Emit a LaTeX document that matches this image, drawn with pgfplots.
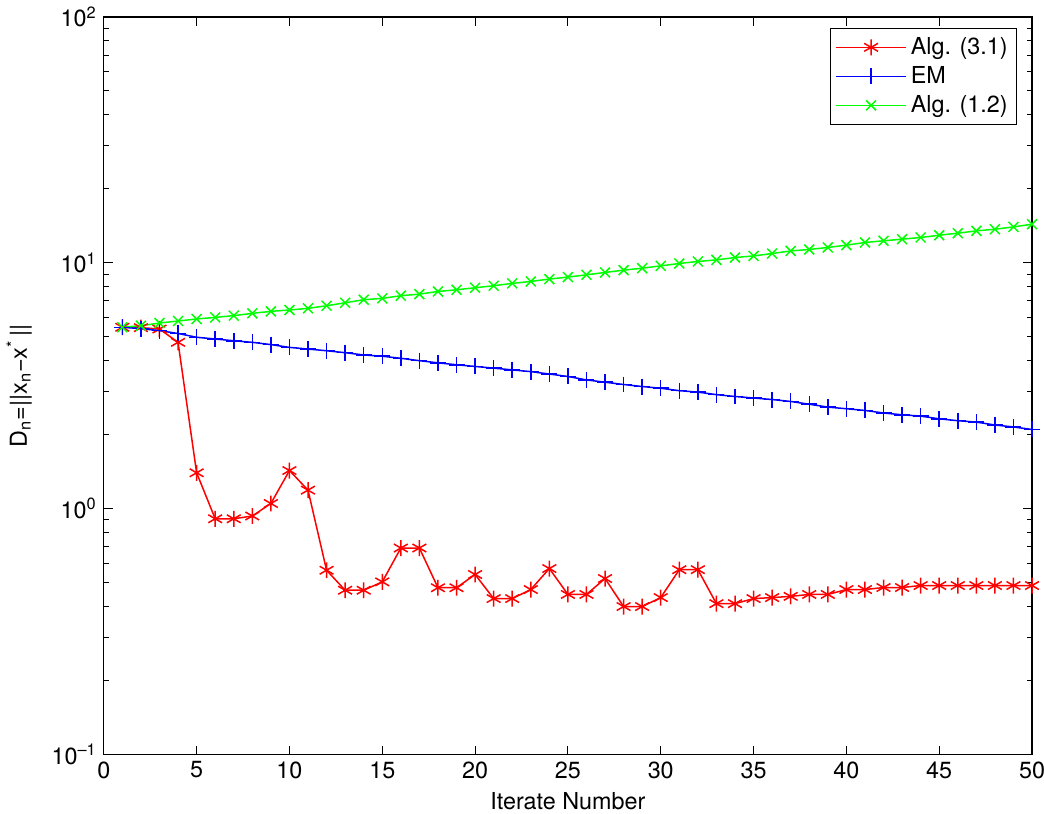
\documentclass[border=0pt]{standalone}
\usepackage{fontspec}
\setmainfont{TeX Gyre Heros}
\usepackage{pgfplots}
\pgfplotsset{compat=1.18}
\begin{document}
\begin{tikzpicture}
\begin{semilogyaxis}[
  scale only axis,
  width=465pt, height=369.5pt,
  xmin=0, xmax=50, ymin=0.1, ymax=100,
  xtick={0,5,...,50},
  ytick={0.1,1,10,100},
  yticklabels={{10\textsuperscript{\textendash1}},{10\textsuperscript{0}},{10\textsuperscript{1}},{10\textsuperscript{2}}},
  /pgf/number format/assume math mode=true,
  font=\fontsize{11.7}{14}\selectfont,
  tick align=inside,
  major tick length=4.5pt,
  minor tick length=2.5pt,
  tick style={black, line width=0.5pt},
  axis line style={line width=0.6pt},
  xlabel={Iterate Number},
  ylabel={D\textsubscript{n}=||x\textsubscript{n}\textminus x\textsuperscript{*}\,||},
  xlabel style={yshift=0pt},
  ylabel style={yshift=3pt},
  legend style={at={(1,1)}, anchor=north east, xshift=-7.5pt, yshift=-5.5pt,
    font=\fontsize{11.7}{14}\selectfont,
    row sep=0.5pt, inner sep=2.5pt},
  legend cell align=left,
  legend image code/.code={\draw[#1] (0cm,0cm) -- (35pt,0cm); \draw[#1, mark repeat=2, mark phase=2] plot coordinates {(0cm,0cm) (17.5pt,0cm) (35pt,0cm)};},
]
\addplot[red, line width=0.75pt, mark=asterisk, mark size=4pt, mark options={solid}] coordinates {
(1,5.47)(2,5.45)(3,5.38)(4,4.75)(5,1.40)(6,0.91)(7,0.91)(8,0.934)(9,1.05)(10,1.43)
(11,1.19)(12,0.562)(13,0.466)(14,0.466)(15,0.504)(16,0.692)(17,0.692)(18,0.477)(19,0.477)(20,0.54)
(21,0.431)(22,0.431)(23,0.469)(24,0.571)(25,0.448)(26,0.448)(27,0.52)(28,0.40)(29,0.40)(30,0.435)
(31,0.565)(32,0.565)(33,0.411)(34,0.411)(35,0.431)(36,0.435)(37,0.44)(38,0.448)(39,0.448)(40,0.469)
(41,0.469)(42,0.478)(43,0.478)(44,0.487)(45,0.487)(46,0.487)(47,0.487)(48,0.487)(49,0.487)(50,0.487)};
\addlegendentry{Alg. (3.1)}
\addplot[blue, line width=0.75pt, mark=+, mark size=4pt, mark options={solid}] coordinates {
(1,5.47)(2,5.40)(3,5.30)(4,5.16)(5,4.98)(6,4.90)(7,4.82)(8,4.75)(9,4.65)(10,4.53)
(11,4.46)(12,4.39)(13,4.31)(14,4.22)(15,4.17)(16,4.09)(17,4.00)(18,3.92)(19,3.85)(20,3.79)
(21,3.73)(22,3.67)(23,3.61)(24,3.53)(25,3.45)(26,3.34)(27,3.27)(28,3.20)(29,3.14)(30,3.09)
(31,3.02)(32,2.98)(33,2.91)(34,2.86)(35,2.82)(36,2.78)(37,2.73)(38,2.66)(39,2.59)(40,2.55)
(41,2.51)(42,2.45)(43,2.41)(44,2.38)(45,2.32)(46,2.28)(47,2.25)(48,2.19)(49,2.15)(50,2.10)};
\addlegendentry{EM}
\addplot[green, line width=0.75pt, mark=x, mark size=3.5pt, mark options={solid}] coordinates {
(1,5.47)(2,5.55)(3,5.69)(4,5.80)(5,5.91)(6,6.00)(7,6.10)(8,6.23)(9,6.35)(10,6.43)
(11,6.53)(12,6.69)(13,6.88)(14,7.08)(15,7.17)(16,7.35)(17,7.46)(18,7.65)(19,7.77)(20,7.92)
(21,8.07)(22,8.25)(23,8.40)(24,8.59)(25,8.75)(26,8.94)(27,9.14)(28,9.34)(29,9.51)(30,9.72)
(31,9.94)(32,10.13)(33,10.28)(34,10.51)(35,10.67)(36,10.91)(37,11.18)(38,11.33)(39,11.55)(40,11.80)
(41,12.10)(42,12.29)(43,12.48)(44,12.68)(45,12.95)(46,13.2)(47,13.49)(48,13.70)(49,14.0)(50,14.36)};
\addlegendentry{Alg. (1.2)}
\end{semilogyaxis}
\pgfresetboundingbox
\path ([xshift=-52pt,yshift=-29.5pt]current axis.south west) rectangle ([xshift=6pt,yshift=8.5pt]current axis.north east);
\end{tikzpicture}
\end{document}
